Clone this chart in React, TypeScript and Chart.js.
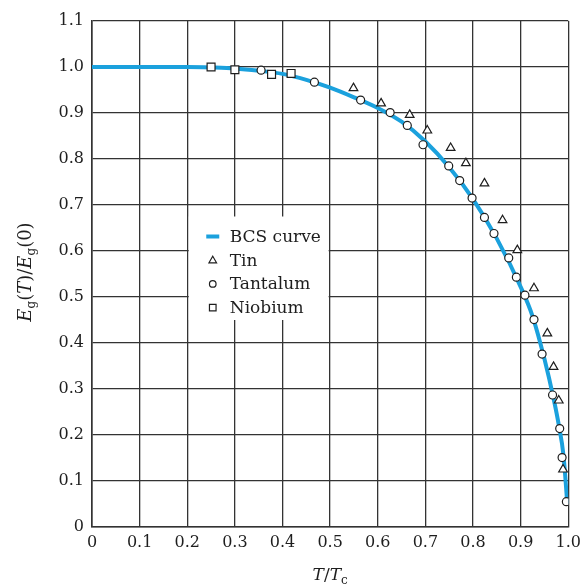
import React, { useEffect, useRef } from "react";
import { Chart, registerables } from "chart.js";

Chart.register(...registerables);

const xTicks = [0, 0.1, 0.2, 0.3, 0.4, 0.5, 0.6, 0.7, 0.8, 0.9, 1.0];
const yTicks = [0, 0.1, 0.2, 0.3, 0.4, 0.5, 0.6, 0.7, 0.8, 0.9, 1.0, 1.1];

const bcsT = [0, 0.1, 0.2, 0.25, 0.3, 0.35, 0.4, 0.45, 0.5, 0.55, 0.6, 0.65, 0.7, 0.75, 0.8, 0.85, 0.9, 0.925, 0.95, 0.97, 0.98, 0.99, 0.998];
const bcsE = [1.0, 1.0, 1.0, 0.999, 0.997, 0.992, 0.985, 0.972, 0.955, 0.934, 0.911, 0.881, 0.838, 0.782, 0.713, 0.627, 0.522, 0.458, 0.365, 0.275, 0.222, 0.155, 0.05];

const tinT = [0.549, 0.607, 0.667, 0.704, 0.753, 0.785, 0.824, 0.862, 0.893, 0.928, 0.956, 0.969, 0.980, 0.989];
const tinE = [0.954, 0.921, 0.896, 0.862, 0.824, 0.791, 0.747, 0.667, 0.602, 0.519, 0.421, 0.348, 0.275, 0.125];

const tantalumT = [0.355, 0.467, 0.564, 0.626, 0.662, 0.695, 0.749, 0.772, 0.798, 0.824, 0.844, 0.875, 0.891, 0.909, 0.928, 0.945, 0.967, 0.982, 0.987, 0.996];
const tantalumE = [0.993, 0.967, 0.928, 0.901, 0.873, 0.831, 0.785, 0.753, 0.715, 0.673, 0.638, 0.585, 0.543, 0.504, 0.451, 0.376, 0.287, 0.214, 0.151, 0.055];

const niobiumT = [0.25, 0.30, 0.377, 0.418];
const niobiumE = [1.0, 0.994, 0.984, 0.986];

const labels = ["BCS curve", "Tin", "Tantalum", "Niobium"];

const FONT = "'DejaVu Serif', 'Liberation Serif', serif";
const BLUE = "#1ba1dd";
const INK = "#1e1e1e";

type Run = { t: string; italic?: boolean; sub?: boolean };

function drawRuns(ctx: CanvasRenderingContext2D, runs: Run[], cx: number, cy: number, size: number) {
  const subSize = Math.round(size * 0.68);
  const fontFor = (r: Run) => `${r.italic ? "italic " : ""}${r.sub ? subSize : size}px ${FONT}`;
  let total = 0;
  for (const r of runs) {
    ctx.font = fontFor(r);
    total += ctx.measureText(r.t).width;
  }
  let x = cx - total / 2;
  ctx.textAlign = "left";
  ctx.textBaseline = "alphabetic";
  for (const r of runs) {
    ctx.font = fontFor(r);
    ctx.fillText(r.t, x, cy + (r.sub ? 4 : 0));
    x += ctx.measureText(r.t).width;
  }
}

const titlePlugin = {
  id: "titles",
  afterDraw(chart: any) {
    const ctx = chart.ctx as CanvasRenderingContext2D;
    const a = chart.chartArea;
    ctx.save();
    ctx.fillStyle = INK;
    drawRuns(ctx, [{ t: "T", italic: true }, { t: "/" }, { t: "T", italic: true }, { t: "c", sub: true }], (a.left + a.right) / 2, 580, 17);
    ctx.translate(25, (a.top + a.bottom) / 2 - 2);
    ctx.rotate(-Math.PI / 2);
    drawRuns(
      ctx,
      [
        { t: "E", italic: true }, { t: "g", sub: true }, { t: "(" }, { t: "T", italic: true }, { t: ")" }, { t: "/" },
        { t: "E", italic: true }, { t: "g", sub: true }, { t: "(0)" },
      ],
      0, 6, 18
    );
    ctx.restore();
  },
};

const legendPlugin = {
  id: "customLegend",
  beforeDatasetsDraw(chart: any) {
    const ctx = chart.ctx as CanvasRenderingContext2D;
    const xs = chart.scales.x;
    const ys = chart.scales.y;
    const left = xs.getPixelForValue(0.2) + 1.5;
    const right = xs.getPixelForValue(0.5) - 1.5;
    const top = ys.getPixelForValue(0.675);
    const bottom = ys.getPixelForValue(0.45);
    ctx.save();
    ctx.fillStyle = "#fff";
    ctx.fillRect(left, top, right - left, bottom - top);
    const ds = chart.data.datasets;
    const mx = left + 24;
    const tx = left + 41;
    const y0 = top + 20;
    const step = 23.7;
    ctx.font = `17px ${FONT}`;
    ctx.textBaseline = "middle";
    ctx.textAlign = "left";
    for (let i = 0; i < ds.length; i++) {
      const y = y0 + i * step;
      const d = ds[i];
      if (d.showLine) {
        ctx.strokeStyle = d.borderColor;
        ctx.lineWidth = 4;
        ctx.beginPath();
        ctx.moveTo(mx - 6.5, y);
        ctx.lineTo(mx + 6.5, y);
        ctx.stroke();
      } else {
        ctx.strokeStyle = INK;
        ctx.fillStyle = "#fff";
        ctx.lineWidth = 1.2;
        ctx.beginPath();
        if (d.pointStyle === "triangle") {
          ctx.moveTo(mx, y - 4);
          ctx.lineTo(mx + 3.8, y + 2.6);
          ctx.lineTo(mx - 3.8, y + 2.6);
          ctx.closePath();
        } else if (d.pointStyle === "circle") {
          ctx.arc(mx, y, 3.3, 0, Math.PI * 2);
        } else {
          ctx.rect(mx - 3.3, y - 3.3, 6.6, 6.6);
        }
        ctx.fill();
        ctx.stroke();
      }
      ctx.fillStyle = INK;
      ctx.fillText(d.label, tx, y + 1);
    }
    ctx.restore();
  },
};

export default function App() {
  const ref = useRef<HTMLCanvasElement>(null);
  useEffect(() => {
    if (!ref.current) return;
    const mk = (xs: number[], ys: number[]) => xs.map((x, i) => ({ x, y: ys[i] }));
    const chart = new Chart(ref.current, {
      type: "scatter",
      data: {
        datasets: [
          {
            label: labels[0],
            data: mk(bcsT, bcsE),
            showLine: true,
            borderColor: BLUE,
            borderWidth: 4,
            pointRadius: 0,
            cubicInterpolationMode: "monotone",
            order: 2,
          } as any,
          {
            label: labels[1],
            data: mk(tinT, tinE),
            showLine: false,
            pointStyle: "triangle",
            pointRadius: 5,
            borderColor: INK,
            backgroundColor: "#fff",
            borderWidth: 1.2,
            order: 0,
          },
          {
            label: labels[2],
            data: mk(tantalumT, tantalumE),
            showLine: false,
            pointStyle: "circle",
            pointRadius: 4,
            borderColor: INK,
            backgroundColor: "#fff",
            borderWidth: 1.2,
            order: 0,
          },
          {
            label: labels[3],
            data: mk(niobiumT, niobiumE),
            showLine: false,
            pointStyle: "rect",
            pointRadius: 5.6,
            borderColor: INK,
            backgroundColor: "#fff",
            borderWidth: 1.2,
            order: 0,
          },
        ],
      },
      options: {
        animation: false,
        responsive: false,
        maintainAspectRatio: false,
        layout: { padding: { top: 21, right: 15, left: 0, bottom: 0 } },
        plugins: { legend: { display: false }, tooltip: { enabled: false } },
        scales: {
          x: {
            type: "linear",
            min: 0,
            max: 1,
            afterBuildTicks: (s: any) => {
              s.ticks = xTicks.map((v) => ({ value: v }));
            },
            afterFit: (s: any) => {
              s.height = 59;
            },
            ticks: {
              autoSkip: false,
              maxRotation: 0,
              padding: 6,
              color: INK,
              font: { family: FONT, size: 16 },
              callback: (v: any) => (Number(v) === 0 ? "0" : Number(v).toFixed(1)),
            },
            grid: { color: "#333", lineWidth: 1.3, drawTicks: false },
            border: { display: true, color: "#333", width: 1.6 },
          },
          y: {
            type: "linear",
            min: 0,
            max: 1.1,
            afterBuildTicks: (s: any) => {
              s.ticks = yTicks.map((v) => ({ value: v }));
            },
            afterFit: (s: any) => {
              s.width = 92;
            },
            ticks: {
              autoSkip: false,
              padding: 8,
              color: INK,
              font: { family: FONT, size: 16 },
              callback: (v: any) => (Number(v) === 0 ? "0" : Number(v).toFixed(1)),
            },
            grid: { color: "#333", lineWidth: 1.3, drawTicks: false },
            border: { display: true, color: "#333", width: 1.6 },
          },
        },
      },
      plugins: [legendPlugin, titlePlugin],
    } as any);
    return () => chart.destroy();
  }, []);
  return (
    <div style={{ position: "fixed", left: 0, top: 0, width: 587, height: 586, background: "#fff" }}>
      <canvas ref={ref} width={587} height={586} style={{ width: 587, height: 586, display: "block" }} />
    </div>
  );
}
